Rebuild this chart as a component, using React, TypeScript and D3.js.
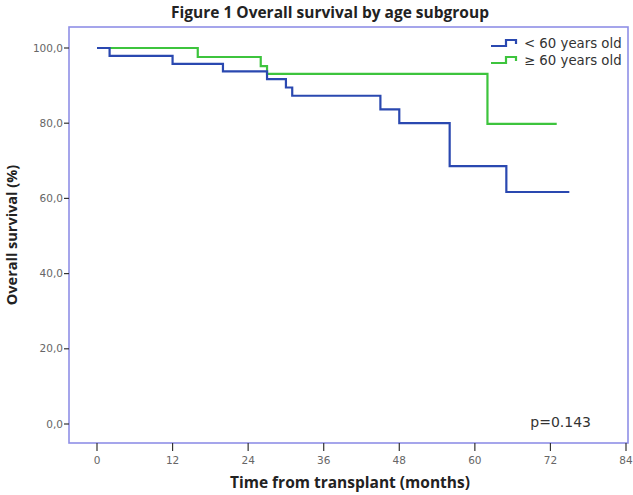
import React from 'react'
import * as d3 from 'd3'

// Kaplan-Meier steps: [month, survival %]
const youngSteps: [number, number][] = [
  [0, 100],
  [2, 97.9],
  [12, 95.8],
  [20, 93.8],
  [27, 91.7],
  [30, 89.5],
  [31, 87.3],
  [45, 83.7],
  [48, 80.0],
  [56, 68.6],
  [65, 61.7],
  [75, 61.7],
]
const oldSteps: [number, number][] = [
  [0, 100],
  [16, 97.6],
  [26, 95.2],
  [27, 93.1],
  [62, 79.8],
  [73, 79.8],
]

const xTicks = [0, 12, 24, 36, 48, 60, 72, 84]
const yTicks = [0, 20, 40, 60, 80, 100]
const seriesNames = ['< 60 years old', '\u2265 60 years old']
const seriesColors = ['#2a48b0', '#3dc43d']

const W = 633
const H = 495
const frame = { left: 69, top: 27, right: 628, bottom: 443 }

const App = () => {
  const x = d3.scaleLinear().domain([0, 84]).range([97, 626])
  const y = d3.scaleLinear().domain([0, 100]).range([424, 48])

  const line = d3
    .line<[number, number]>()
    .x((d) => x(d[0]))
    .y((d) => y(d[1]))
    .curve(d3.curveStepAfter)

  const boldFont = '"Open Sans", sans-serif'
  const plainFont = '"DejaVu Sans", sans-serif'

  return (
    <svg
      width={W}
      height={H}
      style={{ position: 'absolute', left: 0, top: 0, background: '#fff' }}
      fontFamily={plainFont}
    >
      <text
        x={330}
        y={18}
        textAnchor="middle"
        fontSize={15.5}
        fontWeight="bold"
        fontFamily={boldFont}
        fill="#222"
      >
        Figure 1 Overall survival by age subgroup
      </text>

      {/* frame */}
      <rect
        x={frame.left}
        y={frame.top}
        width={frame.right - frame.left}
        height={frame.bottom - frame.top}
        fill="none"
        stroke="#8f8fe6"
        strokeWidth={1.6}
      />

      {/* y axis */}
      {yTicks.map((t) => (
        <g key={'y' + t}>
          <line
            x1={frame.left - 5}
            x2={frame.left}
            y1={y(t)}
            y2={y(t)}
            stroke="#333"
            strokeWidth={1.2}
          />
          <text
            x={frame.left - 6}
            y={y(t)}
            dy="0.35em"
            textAnchor="end"
            fontSize={10.5}
            fill="#666"
          >
            {t.toFixed(1).replace('.', ',')}
          </text>
        </g>
      ))}

      {/* x axis */}
      {xTicks.map((t) => (
        <g key={'x' + t}>
          <line
            x1={x(t)}
            x2={x(t)}
            y1={frame.bottom}
            y2={frame.bottom + 8}
            stroke="#333"
            strokeWidth={1.2}
          />
          <text
            x={x(t)}
            y={frame.bottom + 17}
            dy="0.35em"
            textAnchor="middle"
            fontSize={10.5}
            fill="#666"
          >
            {t}
          </text>
        </g>
      ))}

      <text
        x={350}
        y={488}
        textAnchor="middle"
        fontSize={15.5}
        fontWeight="bold"
        fontFamily={boldFont}
        fill="#222"
      >
        Time from transplant (months)
      </text>
      <text
        transform={`translate(17,${(frame.top + frame.bottom) / 2}) rotate(-90)`}
        textAnchor="middle"
        fontSize={14.5}
        fontWeight="bold"
        fontFamily={boldFont}
        fill="#222"
      >
        Overall survival (%)
      </text>

      {/* survival curves */}
      <path
        d={line(oldSteps) ?? ''}
        fill="none"
        stroke={seriesColors[1]}
        strokeWidth={2.2}
      />
      <path
        d={line(youngSteps) ?? ''}
        fill="none"
        stroke={seriesColors[0]}
        strokeWidth={2.2}
      />

      {/* legend */}
      {seriesNames.map((name, i) => {
        const ly = 43 + i * 17
        return (
          <g key={name}>
            <path
              d={`M491,${ly + 3}H506V${ly - 3}H516V${ly + 1}`}
              fill="none"
              stroke={seriesColors[i]}
              strokeWidth={2.2}
            />
            <text x={524} y={ly} dy="0.35em" fontSize={13.3} fill="#333">
              {name}
            </text>
          </g>
        )
      })}

      <text x={591} y={427} textAnchor="end" fontSize={14} fill="#333">
        p=0.143
      </text>
    </svg>
  )
}

export default App
